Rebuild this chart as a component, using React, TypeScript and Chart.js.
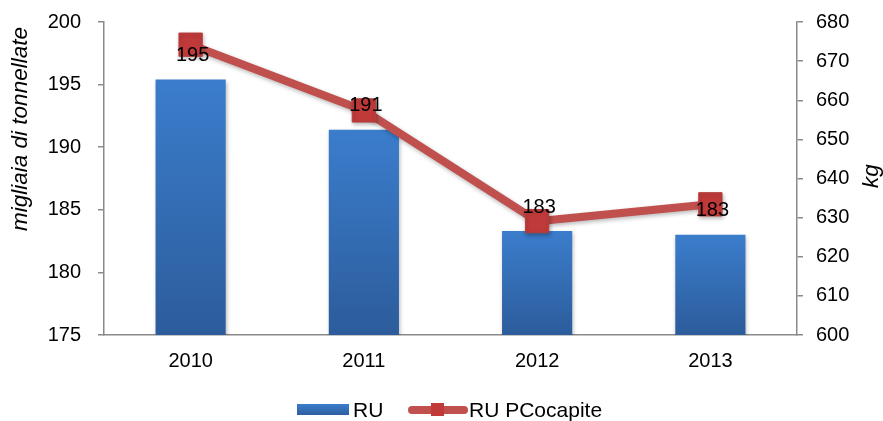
import React, { useEffect, useRef } from 'react';
import { Chart, registerables } from 'chart.js';

Chart.register(...registerables);

// ---- data ----
const years = ['2010', '2011', '2012', '2013'];
const ruThousandTonnes = [195.4, 191.4, 183.3, 183.0];
const ruPerCapitaKg = [674.2, 657.4, 629.1, 633.4];
const leftAxisMin = 175;
const leftAxisMax = 200;
const leftAxisStep = 5;
const rightAxisMin = 600;
const rightAxisMax = 680;
const rightAxisStep = 10;
const seriesNames = ['RU', 'RU PCocapite'];
const leftTitle = 'migliaia di tonnellate';
const rightTitle = 'kg';

const FONT = '"Liberation Sans", Arial, Helvetica, sans-serif';
const AXIS_COLOR = '#8a8a8a';
const LINE_COLOR = '#c0504d';
const MARKER_COLOR = '#c03a3a';
const BAR_TOP = '#3b7dcc';
const BAR_BOTTOM = '#2c5c9b';

const shadowPlugin = {
  id: 'shadowPlugin',
  beforeDatasetDraw(chart: any) {
    const ctx = chart.ctx;
    ctx.save();
    ctx.shadowColor = 'rgba(0,0,0,0.28)';
    ctx.shadowBlur = 4;
    ctx.shadowOffsetX = 1;
    ctx.shadowOffsetY = 2;
  },
  afterDatasetDraw(chart: any) {
    chart.ctx.restore();
  },
};

const overlayPlugin = {
  id: 'overlayPlugin',
  afterDatasetsDraw(chart: any) {
    const ctx = chart.ctx;
    const barIndex = chart.data.datasets.findIndex((d: any) => d.type === 'bar');
    const meta = chart.getDatasetMeta(barIndex);
    ctx.save();
    ctx.font = `20px ${FONT}`;
    ctx.fillStyle = '#000';
    ctx.textAlign = 'center';
    ctx.textBaseline = 'middle';
    meta.data.forEach((el: any, i: number) => {
      ctx.fillText(String(Math.round(ruThousandTonnes[i])), el.x + 2, el.y - 24);
    });
    ctx.restore();
  },
  afterDraw(chart: any) {
    const ctx = chart.ctx;
    const area = chart.chartArea;
    ctx.save();
    // axis titles
    ctx.font = `italic 22.5px ${FONT}`;
    ctx.fillStyle = '#000';
    ctx.textAlign = 'center';
    ctx.textBaseline = 'middle';
    ctx.save();
    ctx.translate(21, 129);
    ctx.rotate(-Math.PI / 2);
    ctx.fillText(leftTitle, 0, 0);
    ctx.restore();
    ctx.save();
    ctx.translate(area.right + 75, 176);
    ctx.rotate(-Math.PI / 2);
    ctx.fillText(rightTitle, 0, 0);
    ctx.restore();

    // legend
    const ly = 410;
    let x = 297;
    const g = ctx.createLinearGradient(0, ly - 6, 0, ly + 6);
    g.addColorStop(0, BAR_TOP);
    g.addColorStop(1, BAR_BOTTOM);
    ctx.fillStyle = g;
    ctx.fillRect(x, ly - 6, 52, 11);
    x += 56;
    ctx.font = `21px ${FONT}`;
    ctx.fillStyle = '#000';
    ctx.textAlign = 'left';
    ctx.textBaseline = 'middle';
    ctx.fillText(seriesNames[0], x, ly + 1);
    x = 410;
    ctx.strokeStyle = LINE_COLOR;
    ctx.lineWidth = 8;
    ctx.lineCap = 'round';
    ctx.beginPath();
    ctx.moveTo(x + 2, ly);
    ctx.lineTo(x + 54, ly);
    ctx.stroke();
    ctx.fillStyle = MARKER_COLOR;
    ctx.fillRect(x + 21, ly - 7, 13, 13);
    ctx.fillStyle = '#000';
    ctx.fillText(seriesNames[1], 469, ly + 1);
    ctx.restore();
  },
};

export default function App() {
  const canvasRef = useRef<HTMLCanvasElement | null>(null);

  useEffect(() => {
    document.body.style.margin = '0';
    const canvas = canvasRef.current;
    if (!canvas) return;
    Chart.defaults.font.family = FONT;

    const chart = new Chart(canvas, {
      data: {
        labels: years,
        datasets: [
          {
            type: 'line',
            label: seriesNames[1],
            data: ruPerCapitaKg,
            yAxisID: 'y1',
            order: 0,
            borderColor: LINE_COLOR,
            borderWidth: 8,
            borderJoinStyle: 'round',
            borderCapStyle: 'round',
            pointStyle: 'rect',
            pointRadius: 16.5,
            pointHoverRadius: 16.5,
            pointBackgroundColor: MARKER_COLOR,
            pointBorderColor: '#b5403d',
            pointBorderWidth: 1,
            tension: 0,
            fill: false,
          } as any,
          {
            type: 'bar',
            label: seriesNames[0],
            data: ruThousandTonnes,
            yAxisID: 'y',
            order: 1,
            barPercentage: 0.405,
            categoryPercentage: 1,
            borderWidth: 0,
            backgroundColor: (c: any) => {
              const ch = c.chart;
              if (c.type !== 'data' || !ch.chartArea || !ch.scales.y) return BAR_TOP;
              const top = ch.scales.y.getPixelForValue(c.raw);
              const grad = ch.ctx.createLinearGradient(0, top, 0, ch.chartArea.bottom);
              grad.addColorStop(0, BAR_TOP);
              grad.addColorStop(1, BAR_BOTTOM);
              return grad;
            },
          } as any,
        ],
      },
      options: {
        responsive: false,
        maintainAspectRatio: false,
        animation: false,
        devicePixelRatio: 1,
        layout: { padding: { top: 22, left: 0, right: 0, bottom: 0 } },
        plugins: {
          legend: { display: false },
          tooltip: { enabled: false },
        },
        scales: {
          x: {
            offset: true,
            grid: { display: false, drawTicks: false },
            border: { display: true, color: AXIS_COLOR, width: 1.5 },
            ticks: { color: '#000', font: { size: 20 }, padding: 14 },
            afterFit: (s: any) => {
              s.height = 86;
              s.paddingLeft = 0;
              s.paddingRight = 0;
            },
          },
          y: {
            position: 'left',
            min: leftAxisMin,
            max: leftAxisMax,
            ticks: { stepSize: leftAxisStep, color: '#000', font: { size: 20 }, padding: 17 },
            grid: { drawOnChartArea: false, drawTicks: true, tickLength: 6, color: AXIS_COLOR, lineWidth: 1.5 },
            border: { display: true, color: AXIS_COLOR, width: 1.5 },
            afterFit: (s: any) => {
              s.width = 104;
              s.paddingTop = 0;
              s.paddingBottom = 0;
            },
          },
          y1: {
            position: 'right',
            min: rightAxisMin,
            max: rightAxisMax,
            ticks: { stepSize: rightAxisStep, color: '#000', font: { size: 20 }, padding: 13 },
            grid: { drawOnChartArea: false, drawTicks: true, tickLength: 6, color: AXIS_COLOR, lineWidth: 1.5 },
            border: { display: true, color: AXIS_COLOR, width: 1.5 },
            afterFit: (s: any) => {
              s.width = 86;
              s.paddingTop = 0;
              s.paddingBottom = 0;
            },
          },
        },
      } as any,
      plugins: [shadowPlugin, overlayPlugin],
    });

    return () => {
      chart.destroy();
    };
  }, []);

  return (
    <div style={{ width: 883, height: 421 }}>
      <canvas ref={canvasRef} width={883} height={421} style={{ display: 'block', width: 883, height: 421 }} />
    </div>
  );
}
